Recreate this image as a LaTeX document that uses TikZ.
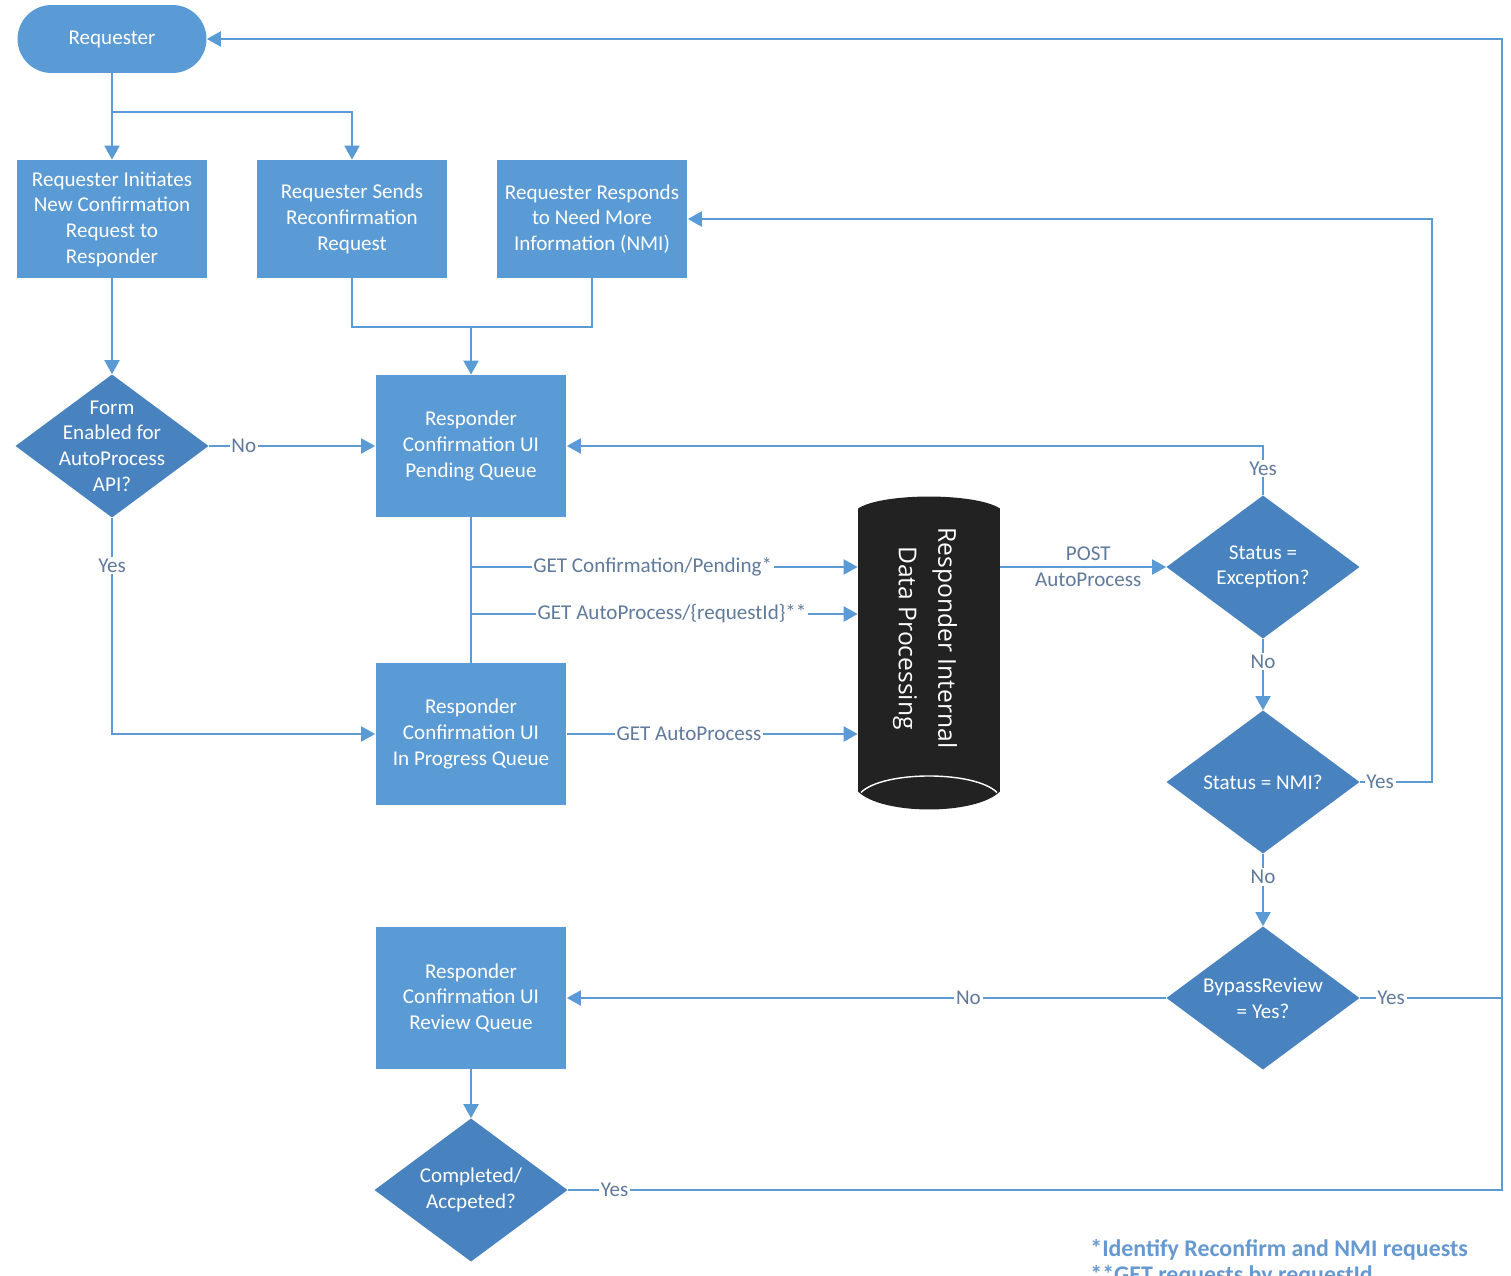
\documentclass[tikz,border=0pt]{standalone}
\usepackage{fontspec}
\setmainfont{Carlito}
\newfontfamily\dpfont{Open Sans}
\usepackage{tikz}
\usetikzlibrary{arrows.meta,calc}
\definecolor{boxblue}{RGB}{91,155,213}
\definecolor{dmdblue}{RGB}{72,131,192}
\definecolor{lblgray}{RGB}{96,122,156}
\definecolor{notecol}{RGB}{102,153,209}
\definecolor{dpfill}{RGB}{34,34,34}
\tikzset{%
  tbox/.style={rectangle,rounded corners=0.68cm,fill=boxblue,text=white,minimum width=3.78cm,minimum height=1.36cm,font=\fontsize{12}{14.2}\selectfont},
  pbox/.style={rectangle,fill=boxblue,text=white,align=center,minimum width=3.82cm,minimum height=2.36cm,inner sep=0,font=\fontsize{12}{14.6}\selectfont},
  qbox/.style={pbox,minimum height=2.84cm},
  dbox/.style={rectangle,text=white,align=center,minimum width=3.86cm,minimum height=2.86cm,inner sep=0,font=\fontsize{12}{14.6}\selectfont,
    path picture={\fill[dmdblue] (path picture bounding box.north) -- (path picture bounding box.east) -- (path picture bounding box.south) -- (path picture bounding box.west) -- cycle;}},
  dpbox/.style={rectangle,minimum width=2.84cm,minimum height=6.26cm,inner sep=0,
    path picture={
      \coordinate (cnw) at (path picture bounding box.north west);
      \coordinate (cne) at (path picture bounding box.north east);
      \coordinate (csw) at (path picture bounding box.south west);
      \coordinate (cse) at (path picture bounding box.south east);
      \fill[dpfill] ($(cnw)+(0,-0.24cm)$) .. controls ($(cnw)+(0.48cm,0.08cm)$) and ($(cne)+(-0.48cm,0.08cm)$) .. ($(cne)+(0,-0.24cm)$)
        -- ($(cse)+(0,0.36cm)$) .. controls ($(cse)+(-0.48cm,-0.12cm)$) and ($(csw)+(0.48cm,-0.12cm)$) .. ($(csw)+(0,0.36cm)$) -- cycle;
      \draw[white,line width=0.8pt] ($(csw)+(0.06cm,0.34cm)$) .. controls ($(csw)+(0.5cm,0.78cm)$) and ($(cse)+(-0.5cm,0.78cm)$) .. ($(cse)+(-0.06cm,0.34cm)$);}},
  dptext/.style={text=white,align=center,inner sep=0,font=\dpfont\fontsize{14}{22.5}\selectfont},
  fedge/.style={draw=boxblue,line width=1.1pt},
  farrow/.style={fedge,->},
  flabel/.style={fill=white,text=lblgray,inner sep=1pt,font=\fontsize{12}{14.2}\selectfont},
  plabel/.style={text=lblgray,align=center,inner sep=0,font=\fontsize{12}{14.7}\selectfont},
  note/.style={text=notecol,align=left,inner sep=0,font=\bfseries\fontsize{13.6}{15}\selectfont}
}

\begin{document}
\begin{tikzpicture}[x=0.02cm,y=-0.02cm,>={Triangle[length=0.28cm,width=0.3cm]}]
  \useasboundingbox (0,0) rectangle (1511,1275);
  \path
    (112,39) node[tbox] (rq) {Requester}
    (112,219) node[pbox] (ini) {Requester Initiates\\New Confirmation\\Request to\\Responder}
    (352,219) node[pbox] (snd) {Requester Sends\\Reconfirmation\\Request}
    (592,219) node[pbox] (nmi) {Requester Responds\\to Need More\\Information (NMI)};
  \path
    (112,446) node[dbox] (form) {Form\\Enabled for\\AutoProcess\\API?}
    (471,446) node[qbox] (pend) {Responder\\Confirmation UI\\Pending Queue}
    (471,734) node[qbox] (prog) {Responder\\Confirmation UI\\In Progress Queue}
    (929,653) node[dpbox] (dp) {}
    (1263,567) node[dbox] (exc) {Status =\\Exception?}
    (1263,782) node[dbox] (isnmi) {Status = NMI?}
    (1263,998) node[dbox] (byp) {BypassReview\\= Yes?}
    (471,998) node[qbox] (rev) {Responder\\Confirmation UI\\Review Queue}
    (471,1190) node[dbox] (done) {Completed/\\Accpeted?};
  \node[dptext,rotate=-90] (dpt) at ($(dp)+(-4,-15)$) {Responder Internal\\Data Processing};
  \coordinate (jt) at (112,112);
  \coordinate (jb) at (471,327);
  \coordinate (g1) at (471,567);
  \coordinate (g2) at (471,614);
  \coordinate (jn) at (1432,219);
  \coordinate (jr) at (1502,998);

  \draw[farrow] (rq) -- (ini);
  \draw[farrow] (jt) -| (snd.north);
  \draw[farrow] (ini) -- (form);
  \draw[fedge] (snd.south) |- (jb) -| (nmi.south);
  \draw[farrow] (jb) -- (pend.north);
  \draw[farrow] (form.east) -- node[flabel,pos=0.21] {No} (pend.west);
  \draw[farrow] (form.south) |- node[flabel,pos=0.11] {Yes} (prog.west);
  \draw[fedge] (pend) -- (prog);
  \draw[farrow] (g1) -- node[flabel,pos=0.47] {GET Confirmation/Pending*} (dp.west |- g1);
  \draw[farrow] (g2) -- node[flabel,pos=0.52] {GET AutoProcess/\{requestId\}**} (dp.west |- g2);
  \draw[farrow] (prog.east) -- node[flabel,pos=0.42] {GET AutoProcess} (dp.west |- prog.east);
  \draw[farrow] (dp.east |- exc.west) -- node[plabel,pos=0.53] {POST\\AutoProcess} (exc.west);
  \draw[farrow] (exc.north) |- node[flabel,pos=0.27] {Yes} (pend.east);
  \draw[farrow] (exc) -- node[flabel,pos=0.32] {No} (isnmi);
  \draw[farrow] (isnmi.east) -| node[flabel,pos=0.14] {Yes} (jn) -- (nmi.east);
  \draw[farrow] (isnmi) -- node[flabel,pos=0.32] {No} (byp);
  \draw[farrow] (byp.west) -- node[flabel,pos=0.33] {No} (rev.east);
  \draw[farrow] (byp.east) -- node[flabel,pos=0.22] {Yes} (jr) |- (rq.east);
  \draw[farrow] (rev) -- (done);
  \draw[fedge] (done.east) -- node[flabel,pos=0.05] {Yes} (done.east -| jr) -- (jr);

  \node[note,anchor=north west] (fn) at (1090,1239) {*Identify Reconfirm and NMI requests\\**GET requests by requestId};
\end{tikzpicture}
\end{document}
